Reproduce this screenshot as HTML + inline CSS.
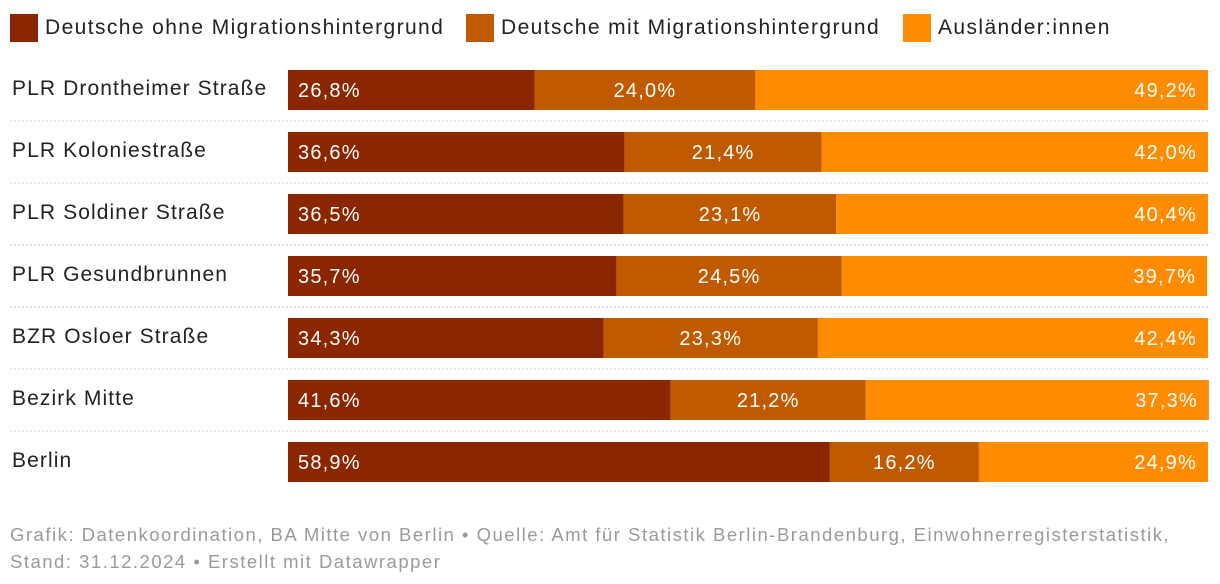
<!DOCTYPE html>
<html><head><meta charset="utf-8">
<style>
body{margin:0;background:#fff;width:1220px;height:584px;overflow:hidden;font-family:"Liberation Sans",Arial,sans-serif;}
#c{position:absolute;left:0;top:0}
.lg{position:absolute;top:13px;height:30px;display:flex;align-items:center;font-size:21px;color:#222;letter-spacing:1.4px}
.sw{width:28px;height:28px;margin-right:7px}
.foot{position:absolute;left:10px;top:521px;font-size:18.5px;color:#9a9a9a;line-height:27px;letter-spacing:1.5px;white-space:nowrap}
</style></head><body>
<div class="lg" style="left:10px"><div class="sw" style="background:#8a2600"></div>Deutsche ohne Migrationshintergrund</div>
<div class="lg" style="left:466px"><div class="sw" style="background:#c05a00"></div>Deutsche mit Migrationshintergrund</div>
<div class="lg" style="left:903px"><div class="sw" style="background:#ff8c00"></div>Ausländer:innen</div>
<svg id="c" width="1220" height="500"></svg>
<div class="foot">Grafik: Datenkoordination, BA Mitte von Berlin • Quelle: Amt für Statistik Berlin-Brandenburg, Einwohnerregisterstatistik,<br>Stand: 31.12.2024 • Erstellt mit Datawrapper</div>
<script>
const categories=["PLR Drontheimer Straße","PLR Koloniestraße","PLR Soldiner Straße","PLR Gesundbrunnen","BZR Osloer Straße","Bezirk Mitte","Berlin"];
const ohne=[26.8,36.6,36.5,35.7,34.3,41.6,58.9];
const mit=[24.0,21.4,23.1,24.5,23.3,21.2,16.2];
const aus=[49.2,42.0,40.4,39.7,42.4,37.3,24.9];
const svg=document.getElementById('c');
const NS="http://www.w3.org/2000/svg";
const x0=288,W=920,y0=70,step=62,bh=40;
const xs=v=>v/100*W;
const yr=i=>y0+i*step;
const fmt=v=>v.toFixed(1).replace('.',',')+'%';
function mk(t,a){const e=document.createElementNS(NS,t);for(const k in a)e.setAttribute(k,a[k]);svg.appendChild(e);return e;}
categories.forEach((c,i)=>{
  const y=yr(i);
  const lab=mk('text',{x:12,y:y+25,'font-size':21,fill:'#222','letter-spacing':1.1});lab.textContent=c;
  
  
  if(i<categories.length-1){const l=mk('line',{x1:10,x2:1208,y1:y+51,y2:y+51,stroke:'#ccc','stroke-dasharray':'2,2'});
    
    }
  const vals=[ohne[i],mit[i],aus[i]],cols=['#8a2600','#c05a00','#ff8c00'];
  let cx=x0;
  vals.forEach((v,j)=>{
    const w=xs(v);
    const r=mk('rect',{x:cx,y:y,width:w,height:bh,fill:cols[j]});
    
    
    let tx,anchor;
    if(j==0){tx=cx+10;anchor='start';}else if(j==1){tx=cx+w/2;anchor='middle';}else{tx=cx+w-11;anchor='end';}
    const t=mk('text',{x:tx,y:y+27,'font-size':20,fill:'#fff','text-anchor':anchor,'letter-spacing':1.2});t.textContent=fmt(v);
    
    
    cx+=w;
  });
});
</script>
</body></html>
